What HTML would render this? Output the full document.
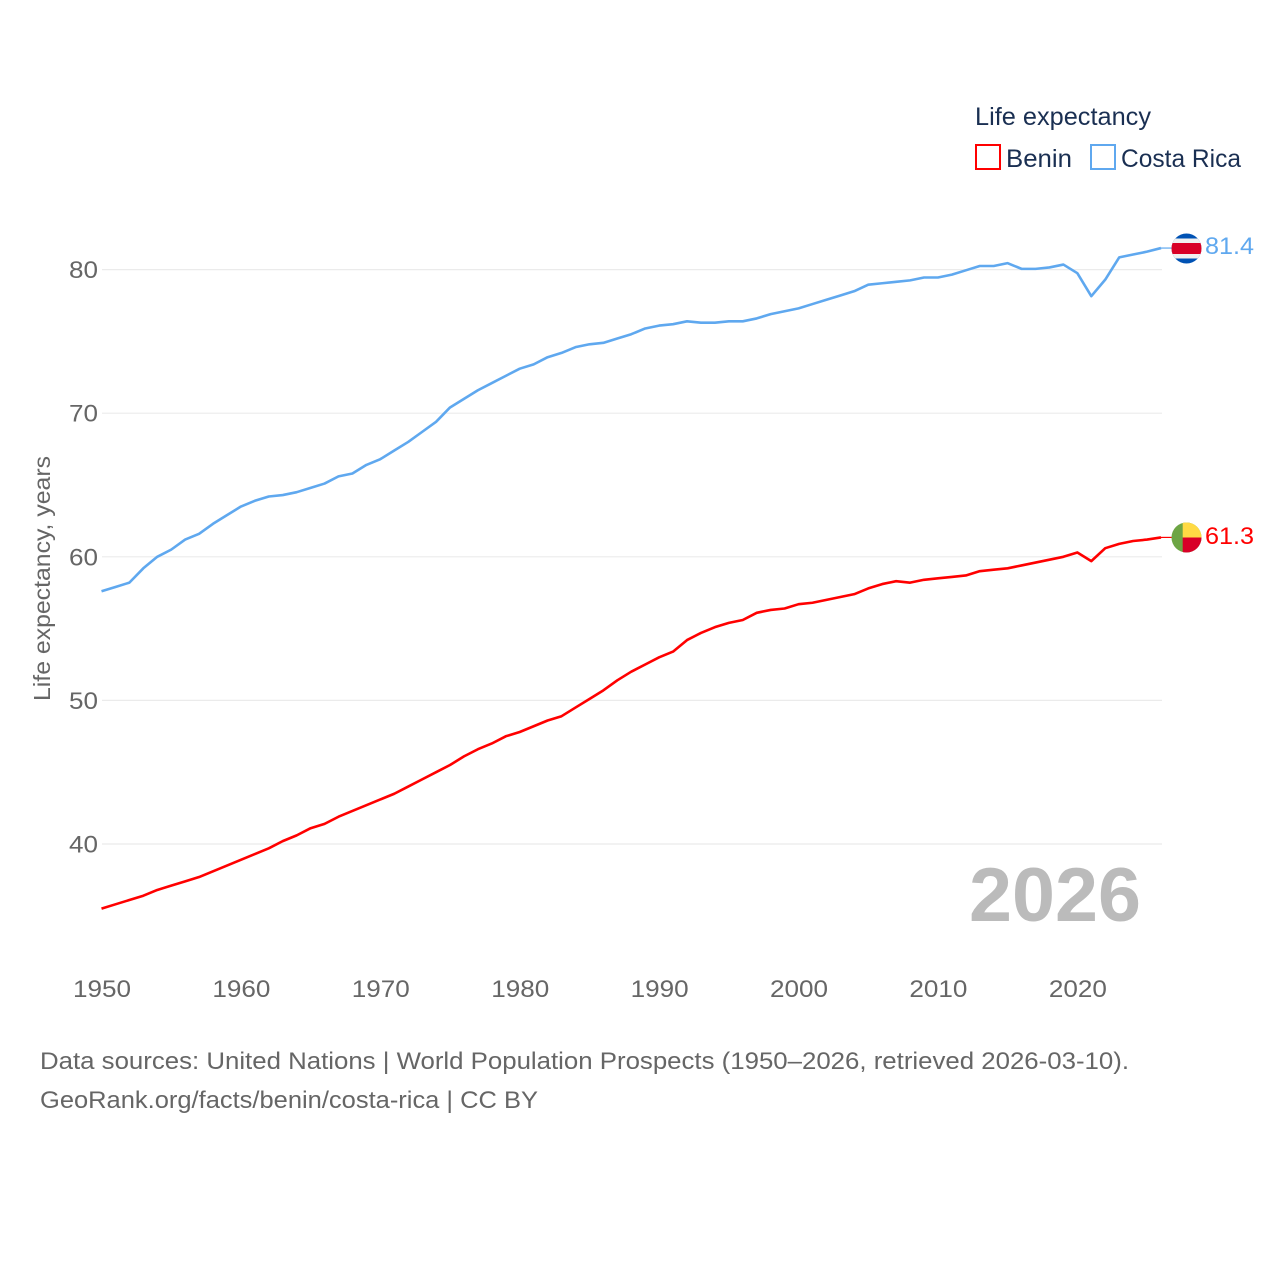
<!DOCTYPE html>
<html lang="en">
<head>
<meta charset="utf-8">
<title>Life expectancy: Benin and Costa Rica</title>
<style>
html,body{margin:0;padding:0;background:#fff;width:1280px;height:1280px;overflow:hidden}
svg{display:block;font-family:"Liberation Sans",sans-serif}
</style>
</head>
<body>
<svg id="chart" width="1280" height="1280" viewBox="0 0 1280 1280" xmlns="http://www.w3.org/2000/svg">
  <defs>
    <clipPath id="clip-cr"><circle cx="1186.5" cy="248.5" r="15"/></clipPath>
    <clipPath id="clip-bj"><circle cx="1186.5" cy="537.5" r="15"/></clipPath>
  </defs>
  <rect width="1280" height="1280" fill="#fff"/>
  <g id="grid"></g>
  <g id="y-ticks"></g>
  <g id="x-ticks"></g>
  <text transform="translate(50,701) rotate(-90)" font-size="23" fill="#666" textLength="245" lengthAdjust="spacingAndGlyphs">Life expectancy, years</text>
  <text x="969" y="921" font-size="76" font-weight="700" fill="#bbb" textLength="172" lengthAdjust="spacingAndGlyphs">2026</text>
  <g id="series"></g>

  <g clip-path="url(#clip-cr)">
    <rect x="1171" y="233" width="31" height="31" fill="#0052B4"/>
    <rect x="1171" y="238.5" width="31" height="20" fill="#F0F0F0"/>
    <rect x="1171" y="243" width="31" height="11" fill="#D80027"/>
  </g>
  <g clip-path="url(#clip-bj)">
    <rect x="1171" y="522" width="31" height="31" fill="#6DA544"/>
    <rect x="1182.7" y="522" width="20" height="15.5" fill="#FFDA44"/>
    <rect x="1182.7" y="537.5" width="20" height="16" fill="#D80027"/>
  </g>
  <text x="1205" y="254" font-size="24" fill="#5fa8ef" textLength="49" lengthAdjust="spacingAndGlyphs">81.4</text>
  <text x="1205" y="544" font-size="24" fill="#ff0000" textLength="49" lengthAdjust="spacingAndGlyphs">61.3</text>

  <g>
    <text x="975" y="125" font-size="25" fill="#1a2f52" textLength="176" lengthAdjust="spacingAndGlyphs">Life expectancy</text>
    <g>
      <rect x="976" y="145" width="24" height="24" fill="#fff" stroke="#ff0000" stroke-width="2"/>
      <text x="1006" y="167" font-size="25" fill="#1a2f52" textLength="66" lengthAdjust="spacingAndGlyphs">Benin</text>
    </g>
    <g>
      <rect x="1091" y="145" width="24" height="24" fill="#fff" stroke="#5fa8ef" stroke-width="2"/>
      <text x="1121" y="167" font-size="25" fill="#1a2f52" textLength="120" lengthAdjust="spacingAndGlyphs">Costa Rica</text>
    </g>
  </g>

  <text x="40" y="1069" font-size="24" fill="#666" textLength="1089" lengthAdjust="spacingAndGlyphs">Data sources: United Nations | World Population Prospects (1950–2026, retrieved 2026-03-10).</text>
  <text x="40" y="1108" font-size="24" fill="#666" textLength="498" lengthAdjust="spacingAndGlyphs">GeoRank.org/facts/benin/costa-rica | CC BY</text>
</svg>
<script>
const startYear = 1950;
const endYear = 2026;
const yTickValues = [40, 50, 60, 70, 80];
const xTickValues = [1950, 1960, 1970, 1980, 1990, 2000, 2010, 2020];
const beninValues = [
  35.5, 35.8, 36.1, 36.4, 36.8, 37.1, 37.4, 37.7, 38.1, 38.5,
  38.9, 39.3, 39.7, 40.2, 40.6, 41.1, 41.4, 41.9, 42.3, 42.7,
  43.1, 43.5, 44.0, 44.5, 45.0, 45.5, 46.1, 46.6, 47.0, 47.5,
  47.8, 48.2, 48.6, 48.9, 49.5, 50.1, 50.7, 51.4, 52.0, 52.5,
  53.0, 53.4, 54.2, 54.7, 55.1, 55.4, 55.6, 56.1, 56.3, 56.4,
  56.7, 56.8, 57.0, 57.2, 57.4, 57.8, 58.1, 58.3, 58.2, 58.4,
  58.5, 58.6, 58.7, 59.0, 59.1, 59.2, 59.4, 59.6, 59.8, 60.0,
  60.3, 59.7, 60.6, 60.9, 61.1, 61.2, 61.35
];
const costaRicaValues = [
  57.6, 57.9, 58.2, 59.2, 60.0, 60.5, 61.2, 61.6, 62.3, 62.9,
  63.5, 63.9, 64.2, 64.3, 64.5, 64.8, 65.1, 65.6, 65.8, 66.4,
  66.8, 67.4, 68.0, 68.7, 69.4, 70.4, 71.0, 71.6, 72.1, 72.6,
  73.1, 73.4, 73.9, 74.2, 74.6, 74.8, 74.9, 75.2, 75.5, 75.9,
  76.1, 76.2, 76.4, 76.3, 76.3, 76.4, 76.4, 76.6, 76.9, 77.1,
  77.3, 77.6, 77.9, 78.2, 78.5, 78.95, 79.05, 79.15, 79.25, 79.45,
  79.45, 79.65, 79.95, 80.25, 80.25, 80.45, 80.05, 80.05, 80.15, 80.35,
  79.75, 78.15, 79.3, 80.85, 81.05, 81.25, 81.5
];

const NS = 'http://www.w3.org/2000/svg';
const xScale = year => 101.5 + (year - startYear) * (1161 - 101.5) / (endYear - startYear);
const yScale = value => 844 - (value - 40) * 14.36;

const gridGroup = document.getElementById('grid');
const yTickGroup = document.getElementById('y-ticks');
const xTickGroup = document.getElementById('x-ticks');
const seriesGroup = document.getElementById('series');

yTickValues.forEach(value => {
  const line = document.createElementNS(NS, 'line');
  line.setAttribute('x1', 102);
  line.setAttribute('x2', 1162);
  line.setAttribute('y1', yScale(value));
  line.setAttribute('y2', yScale(value));
  line.setAttribute('stroke', '#ebebeb');
  line.setAttribute('stroke-width', 1.2);
  
  
  gridGroup.appendChild(line);

  const label = document.createElementNS(NS, 'text');
  label.textContent = value;
  label.setAttribute('x', 98);
  label.setAttribute('y', yScale(value) + 8.5);
  label.setAttribute('text-anchor', 'end');
  label.setAttribute('font-size', 24);
  label.setAttribute('fill', '#666');
  label.setAttribute('textLength', 29);
  label.setAttribute('lengthAdjust', 'spacingAndGlyphs');
  
  
  yTickGroup.appendChild(label);
});

xTickValues.forEach(year => {
  const label = document.createElementNS(NS, 'text');
  label.textContent = year;
  label.setAttribute('x', xScale(year) + 0.5);
  label.setAttribute('y', 997);
  label.setAttribute('text-anchor', 'middle');
  label.setAttribute('font-size', 24);
  label.setAttribute('fill', '#666');
  label.setAttribute('textLength', 58);
  label.setAttribute('lengthAdjust', 'spacingAndGlyphs');
  
  
  xTickGroup.appendChild(label);
});

function drawSeries(values, color, seriesName) {
  const points = values.map((value, i) => xScale(startYear + i).toFixed(2) + ',' + yScale(value).toFixed(2));
  const path = document.createElementNS(NS, 'polyline');
  path.setAttribute('points', points.join(' '));
  path.setAttribute('fill', 'none');
  path.setAttribute('stroke', color);
  path.setAttribute('stroke-width', 2.6);
  path.setAttribute('stroke-linejoin', 'round');
  
  
  seriesGroup.appendChild(path);

  const lastY = yScale(values[values.length - 1]);
  const connector = document.createElementNS(NS, 'line');
  connector.setAttribute('x1', xScale(endYear));
  connector.setAttribute('x2', 1172);
  connector.setAttribute('y1', lastY);
  connector.setAttribute('y2', lastY);
  connector.setAttribute('stroke', color);
  connector.setAttribute('stroke-width', 1.2);
  
  
  seriesGroup.appendChild(connector);
}

drawSeries(beninValues, '#ff0000', 'benin');
drawSeries(costaRicaValues, '#5fa8ef', 'costa-rica');
</script>
</body>
</html>
